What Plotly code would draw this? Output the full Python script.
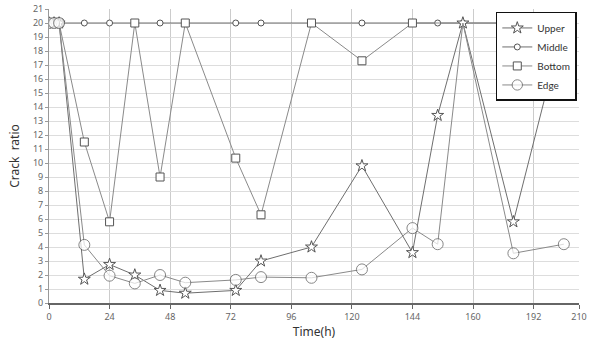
import plotly.graph_objects as go

# Data
time_h = [0, 2, 4, 14, 24, 34, 44, 54, 74, 84, 104, 124, 144, 154, 164, 184, 204]
upper = [20, 20, 20, 1.7, 2.75, 2.0, 0.9, 0.7, 0.9, 3.0, 4.0, 9.8, 3.6, 13.4, 20, 5.8, 20]
middle = [20] * 17
edge = [20, 20, 20, 4.15, 1.95, 1.4, 2.0, 1.45, 1.65, 1.85, 1.8, 2.4, 5.35, 4.2, 20, 3.55, 4.2]

bottom_time = [0, 2, 4, 14, 24, 34, 44, 54, 74, 84, 104, 124, 144, 184, 204]
bottom = [20, 20, 20, 11.5, 5.8, 20, 9.0, 20, 10.35, 6.3, 20, 17.3, 20, 20, 20]

x_tickvals = [0, 24, 48, 72, 96, 120, 144, 168, 192, 210]
x_ticktext = ["0", "24", "48", "72", "96", "120", "144", "160", "192", "210"]
y_tickvals = list(range(0, 22))

fig = go.Figure()

edge_sizes = [0 if t == 164 else 11 for t in time_h]

series = [
    ("Middle", time_h, middle, "circle", 6, "#6e6e6e", 2),
    ("Bottom", bottom_time, bottom, "square", 8, "#8a8a8a", 3),
    ("Upper", time_h, upper, "star", 9, "#6e6e6e", 1),
    ("Edge", time_h, edge, "circle", edge_sizes, "#8a8a8a", 4),
]
for name, xs, vals, sym, size, lc, rank in series:
    fig.add_trace(go.Scatter(
        x=xs, y=vals, name=name, mode="lines+markers",
        line=dict(color=lc, width=1),
        marker=dict(symbol=sym, size=size, color="white",
                    line=dict(color="#555555", width=1)),
        legendrank=rank,
    ))

fig.update_layout(
    width=591, height=344,
    margin=dict(l=49, r=12, t=9, b=41, autoexpand=False),
    paper_bgcolor="white", plot_bgcolor="white",
    font=dict(family="Noto Sans, sans-serif", color="#333"),
    showlegend=True,
    legend=dict(
        x=0.843, y=0.99, xanchor="left", yanchor="top",
        bgcolor="white", bordercolor="#111", borderwidth=1.5,
        font=dict(size=10, family="Lato, sans-serif", color="#333"),
        itemwidth=30, tracegroupgap=4,
    ),
    xaxis=dict(
        range=[0, 210], tickvals=x_tickvals, ticktext=x_ticktext,
        showgrid=True, gridcolor="#cccccc", gridwidth=1,
        showline=True, linecolor="#666666", linewidth=2,
        ticks="outside", ticklen=4, tickcolor="#666666",
        tickfont=dict(size=9, color="#666666"),
        zeroline=False, automargin=False,
        title=dict(text="Time(h)", font=dict(size=12, color="#333"), standoff=6),
    ),
    yaxis=dict(
        range=[0, 21], tickvals=y_tickvals,
        showgrid=True, gridcolor="#dddddd", gridwidth=1,
        showline=True, linecolor="#999999", linewidth=1,
        ticks="outside", ticklen=3, tickcolor="#999999",
        tickfont=dict(size=9, color="#666666"),
        zeroline=False, automargin=False,
        title=dict(text="Crack  ratio", font=dict(size=12, color="#333"), standoff=10),
    ),
)

fig.write_html("out.html")
